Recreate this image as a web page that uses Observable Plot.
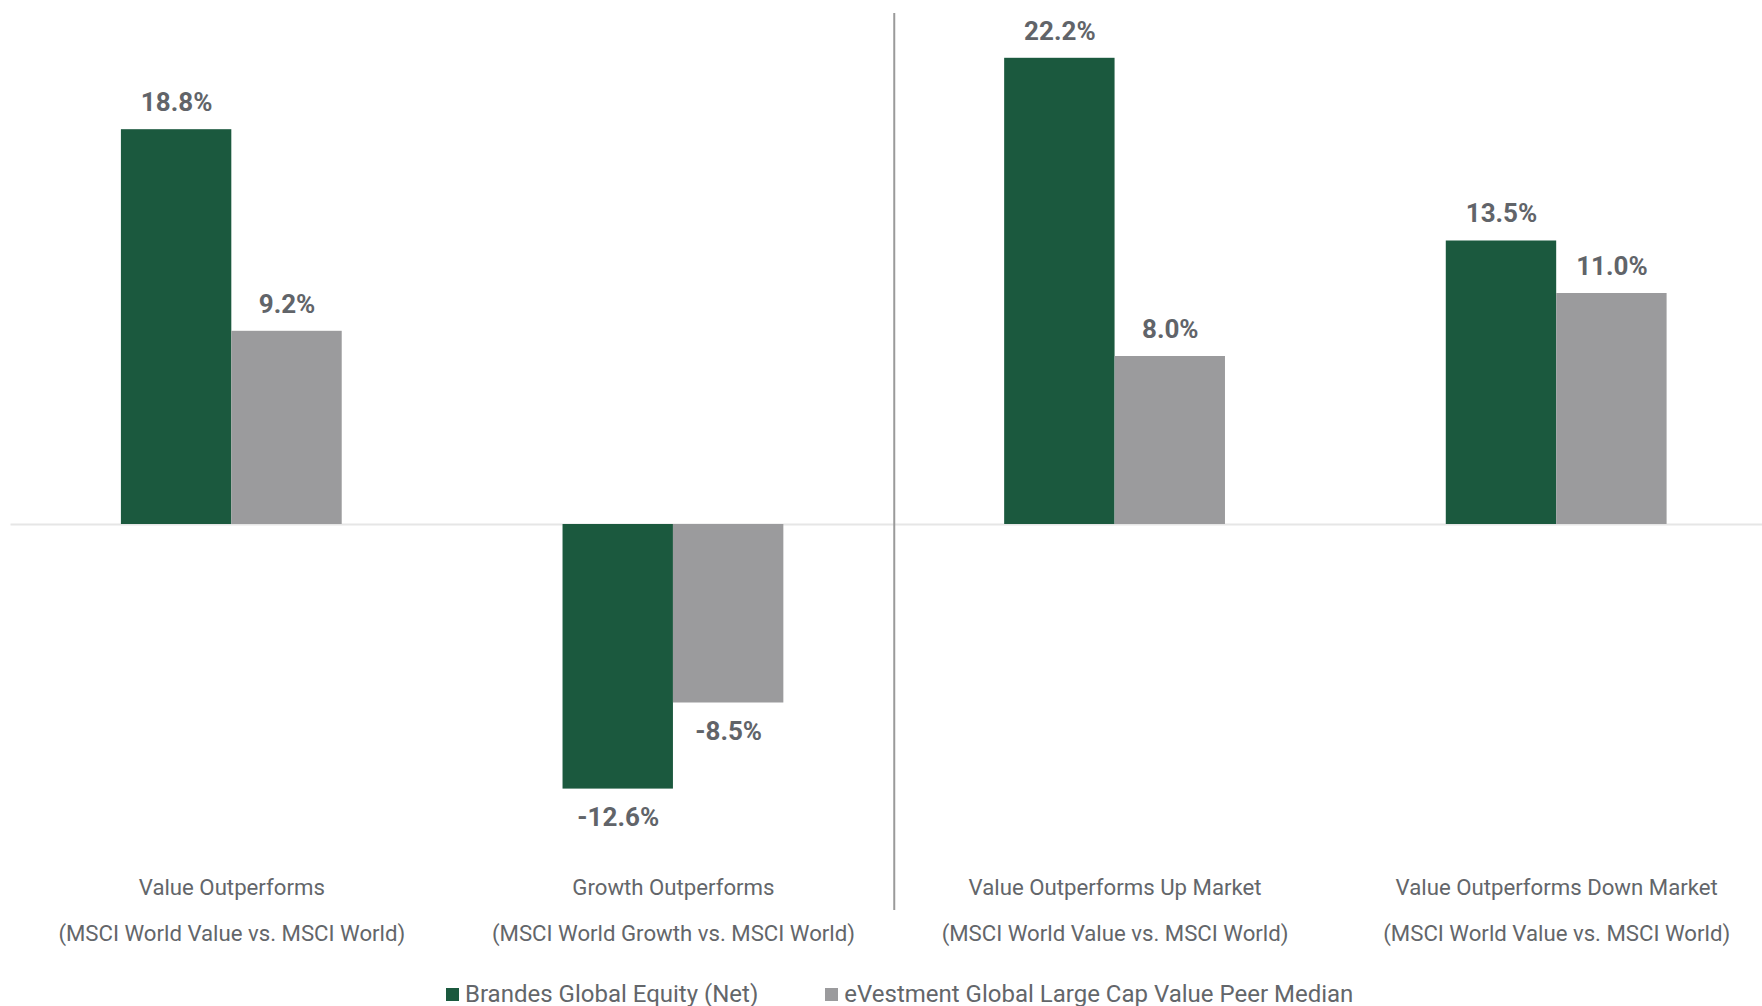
<!DOCTYPE html>
<html>
<head>
<meta charset="utf-8">
<script src="https://cdn.jsdelivr.net/npm/d3@7"></script>
<script src="https://cdn.jsdelivr.net/npm/@observablehq/plot@0.6"></script>
<style>
  html, body { margin: 0; padding: 0; background: #fff; overflow: hidden; }
  body { width: 1762px; height: 1006px; font-family: Roboto, "Noto Sans", sans-serif; }
  #legend { display: flex; align-items: center; margin-left: 446px; margin-top: 12px; height: 24px;
            font-size: 24px; color: #63666a; white-space: nowrap; }
  #legend .sw { width: 13px; height: 13px; display: inline-block; margin-right: 6px; }
  #legend .item { display: flex; align-items: center; margin-right: 67px; }
</style>
</head>
<body>
<div id="chart"></div>
<div id="legend"></div>
<script>
const categories = ["Value Outperforms", "Growth Outperforms", "Value Outperforms Up Market", "Value Outperforms Down Market"];
const subLabels = ["(MSCI World Value vs. MSCI World)", "(MSCI World Growth vs. MSCI World)", "(MSCI World Value vs. MSCI World)", "(MSCI World Value vs. MSCI World)"];
const seriesNames = ["Brandes Global Equity (Net)", "eVestment Global Large Cap Value Peer Median"];
const brandes = [18.8, -12.6, 22.2, 13.5];
const peer = [9.2, -8.5, 8.0, 11.0];
const colors = ["#1b593e", "#9b9b9d"];

const rows = categories.flatMap((c, i) => [
  {cat: c, i, j: 0, series: seriesNames[0], value: brandes[i]},
  {cat: c, i, j: 1, series: seriesNames[1], value: peer[i]}
]);

const barX1 = d => d.i + 0.25 + 0.25 * d.j;
const barX2 = d => d.i + 0.5 + 0.25 * d.j;
const barMid = d => d.i + 0.375 + 0.25 * d.j;
const fmt = d => d.value.toFixed(1) + "%";

const chart = Plot.plot({
  width: 1762,
  height: 970,
  marginTop: 13,
  marginBottom: 60,
  marginLeft: 10.5,
  marginRight: 0,
  style: {fontFamily: "Roboto", background: "white", overflow: "visible"},
  x: {domain: [0, 4], range: [10.5, 1777], axis: null},
  y: {domain: [-18.381, 24.333], axis: null},
  color: {domain: seriesNames, range: colors},
  marks: [
    Plot.ruleY([0], {stroke: "#e6e6e6", strokeWidth: 2}),
    Plot.rectY(rows, {x1: barX1, x2: barX2, y1: 0, y2: "value", fill: "series"}),
    Plot.ruleX([2], {stroke: "#9a9a9a", strokeWidth: 2}),
    Plot.text(rows.filter(d => d.value >= 0), {x: barMid, y: "value", text: fmt, dy: -27,
      fontSize: 26, fontWeight: "bold", fill: "#616469"}),
    Plot.text(rows.filter(d => d.value < 0), {x: barMid, y: "value", text: fmt, dy: 29,
      fontSize: 26, fontWeight: "bold", fill: "#616469"}),
    Plot.text(categories, {x: (d, i) => i + 0.5, frameAnchor: "bottom", lineAnchor: "top", dy: -47,
      text: (d, i) => d + "\n" + subLabels[i], lineHeight: 2.03, fontSize: 22.2, fill: "#63666a"})
  ]
});
document.getElementById("chart").appendChild(chart);

const legend = document.getElementById("legend");
seriesNames.forEach((s, k) => {
  const item = document.createElement("span");
  item.className = "item";
  const sw = document.createElement("span");
  sw.className = "sw";
  sw.style.background = colors[k];
  item.appendChild(sw);
  item.appendChild(document.createTextNode(s));
  legend.appendChild(item);
});
</script>
</body>
</html>
